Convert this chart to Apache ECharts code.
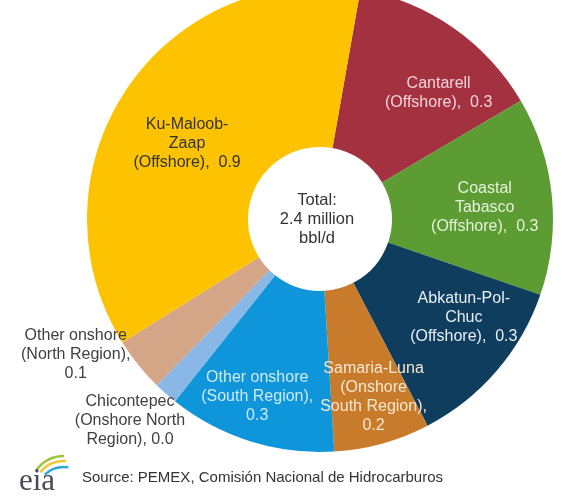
<!DOCTYPE html>
<html>
<head>
<meta charset="utf-8">
<style>
  html, body { margin: 0; padding: 0; background: #ffffff; }
  #chart { width: 566px; height: 499px; }
</style>
<script src="https://cdn.jsdelivr.net/npm/echarts@6/dist/echarts.min.js"></script>
</head>
<body>
<div id="chart"></div>
<script>
// Mexico crude oil production by field, million barrels per day
const fieldNames = [
  'Cantarell\n(Offshore)',
  'Coastal\nTabasco\n(Offshore)',
  'Abkatun-Pol-\nChuc\n(Offshore)',
  'Samaria-Luna\n(Onshore\nSouth Region),\n',
  'Other onshore\n(South Region),\n',
  'Chicontepec\n(Onshore North\nRegion),',
  'Other onshore\n(North Region),\n',
  'Ku-Maloob-\nZaap\n(Offshore)'
];
const production = [0.33, 0.33, 0.29, 0.16, 0.28, 0.04, 0.09, 0.88];
const sliceColors = ['#A3313F', '#5C9C33', '#0E3D5E', '#C97B2C', '#0E95DA', '#8AB8E6', '#D4A587', '#FDC300'];
const labelColors = ['#F6D3D8', '#E6F2DC', '#E8EEF4', '#F8E6D2', '#CDEBFA', '#404040', '#404040', '#333333'];
const labelOffsets = [[30, 2], [10, 4], [26, -3], [12, 28], [-16, 29], [-87, 85], [-123, 38], [-4, 12]];
// single-line names put the value after a double space, wrapped names put it on the last line
const valueJoin = [',  ', ',  ', ',  ', '', '', ' ', '', ',  '];

const total = production.reduce((a, b) => a + b, 0);

const chart = echarts.init(document.getElementById('chart'), null, { renderer: 'canvas' });

const pieData = fieldNames.map((name, i) => ({
  name: name,
  value: production[i],
  itemStyle: { color: sliceColors[i] },
  label: {
    color: labelColors[i],
    offset: labelOffsets[i],
    formatter: (p) => p.name + valueJoin[i] + p.value.toFixed(1)
  }
}));

chart.setOption({
  animation: false,
  backgroundColor: '#ffffff',
  series: [{
    type: 'pie',
    center: [320, 219],
    radius: [72, 233],
    startAngle: 80,
    clockwise: true,
    avoidLabelOverlap: false,
    silent: true,
    itemStyle: { borderWidth: 0 },
    label: {
      show: true,
      position: 'inside',
      fontFamily: 'Liberation Sans, Arial, sans-serif',
      fontSize: 16,
      lineHeight: 19,
      align: 'center'
    },
    labelLine: { show: false },
    data: pieData
  }],
  graphic: [
    {
      type: 'text',
      x: 317, y: 219,
      style: {
        text: 'Total:\n' + total.toFixed(1) + ' million\nbbl/d',
        align: 'center',
        verticalAlign: 'middle',
        font: '16.5px "Liberation Sans", Arial, sans-serif',
        lineHeight: 19,
        fill: '#333333'
      }
    },
    {
      type: 'text',
      x: 82, y: 478,
      style: {
        text: 'Source: PEMEX, Comisión Nacional de Hidrocarburos',
        verticalAlign: 'middle',
        font: '15px "Liberation Sans", Arial, sans-serif',
        fill: '#333333'
      }
    },
    // agency logo: wordmark with sweeping arcs above
    {
      type: 'arc',
      shape: { cx: 64, cy: 490, r: 34, startAngle: Math.PI * 1.2, endAngle: Math.PI * 1.5 },
      style: { stroke: '#9CC53C', lineWidth: 2.5, fill: null }
    },
    {
      type: 'arc',
      shape: { cx: 64, cy: 492, r: 31, startAngle: Math.PI * 1.22, endAngle: Math.PI * 1.52 },
      style: { stroke: '#F2C531', lineWidth: 2.5, fill: null }
    },
    {
      type: 'arc',
      shape: { cx: 64, cy: 495, r: 28, startAngle: Math.PI * 1.26, endAngle: Math.PI * 1.55 },
      style: { stroke: '#2FA8D8', lineWidth: 2.5, fill: null }
    },
    {
      type: 'text',
      x: 19, y: 482,
      style: {
        text: 'eia',
        verticalAlign: 'middle',
        font: '31px "Liberation Serif", "DejaVu Serif", serif',
        fill: '#4A4A58'
      }
    }
  ]
});
</script>
</body>
</html>
